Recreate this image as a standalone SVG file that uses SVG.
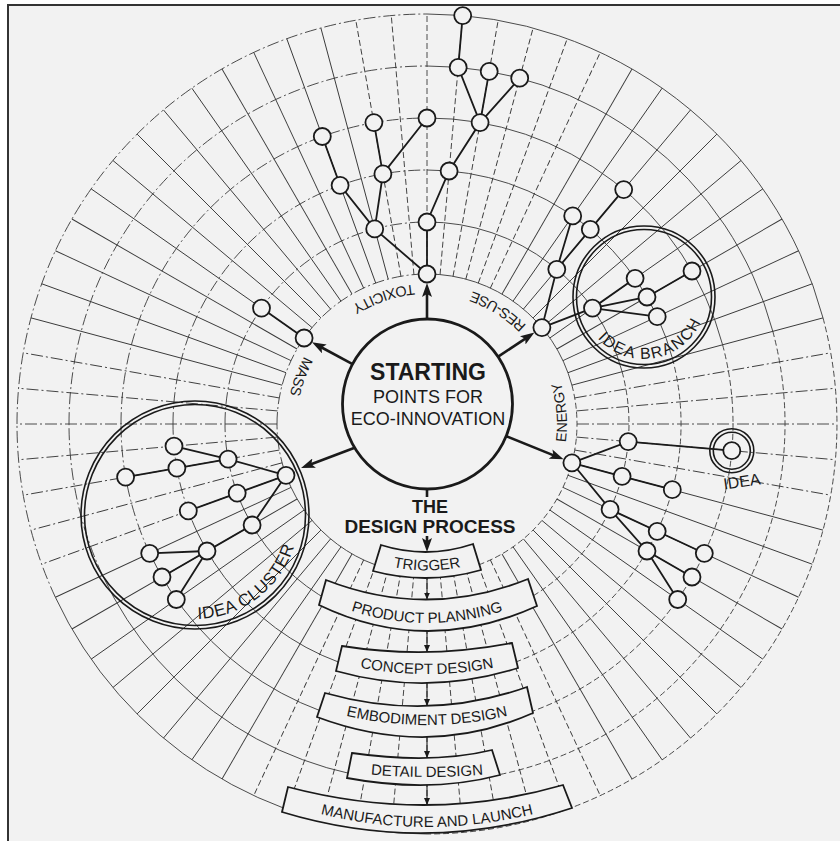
<svg xmlns="http://www.w3.org/2000/svg" width="840" height="841" viewBox="0 0 840 841">
<style>
.grid{fill:none;stroke:#383838;stroke-width:0.9}
.d{stroke-dasharray:6 3}
.dd{stroke-dasharray:12 3 2 3}
.edge{fill:none;stroke:#1a1a1a;stroke-width:1.8}
.node circle{fill:#f2f2f2;stroke:#1a1a1a;stroke-width:1.8}
.ring{fill:none;stroke:#1a1a1a;stroke-width:1.6}
.arr{fill:none;stroke:#1a1a1a;stroke-width:2.6}
.sarr{fill:none;stroke:#1a1a1a;stroke-width:1.1}
text{font-family:"Liberation Sans",Arial,Helvetica,sans-serif;fill:#1a1a1a}
.lab{font-size:14.5px}
.bt{font-size:15px}
.box path{fill:#f2f2f2;stroke:#1a1a1a;stroke-width:1.8}
</style>
<defs>
<marker id="ah" viewBox="0 0 14 10" refX="4" refY="5" markerWidth="14" markerHeight="10" markerUnits="userSpaceOnUse" orient="auto"><path d="M0,0 L14,5 L0,10 L3,5 Z" fill="#1a1a1a"/></marker>
<marker id="as" viewBox="0 0 7 6" refX="7" refY="3" markerWidth="7" markerHeight="6" markerUnits="userSpaceOnUse" orient="auto"><path d="M0,0 L7,3 L0,6 Z" fill="#1a1a1a"/></marker>
<path id="pTox" d="M488.4,298.2 A140,140 0 0 0 301.2,362.6"/>
<path id="pMass" d="M368.9,296.6 A140,140 0 0 0 299.6,482.1"/>
<path id="pRes" d="M563.4,392.5 A140,140 0 0 0 395.5,287.6"/>
<path id="pEn" d="M534.2,514 A140,140 0 0 0 517,316.8"/>
<path id="pClu" d="M138.4,602.2 A104,104 0 0 0 294.5,484.6"/>
<path id="pBr" d="M587.6,322.7 A62,62 0 0 0 705.7,302.9"/>
<path id="t1" d="M378,563 Q427,578 476,563"/>
<path id="t2" d="M316,597 Q427,649 538,597"/>
<path id="t3" d="M327,660 Q427,688 527,660"/>
<path id="t4" d="M317,708 Q427,742 537,708"/>
<path id="t5" d="M347,772 Q427,782 507,772"/>
<path id="t6" d="M277,801 Q427,853 577,801"/>
</defs>

<rect x="0" y="0" width="840" height="841" fill="#ffffff"/>
<rect x="8" y="5" width="832" height="836" fill="#f2f2f2"/>
<path d="M8,841 V5 H840" fill="none" stroke="#333" stroke-width="2"/>

<g id="grid">
<g class="grid dd">
<path d="M277,424 A150,150 0 0 1 427,274"/>
<path d="M225,424 A202,202 0 0 1 427,222"/>
<path d="M173,424 A254,254 0 0 1 427,170"/>
<path d="M121,424 A306,306 0 0 1 427,118"/>
<path d="M69,424 A358,358 0 0 1 427,66"/>
<path d="M17,424 A410,410 0 0 1 427,14"/>
<path d="M291.1,487.4 A150,150 0 0 1 277,424"/>
<path d="M243.9,509.4 A202,202 0 0 1 225,424"/>
<path d="M196.8,531.3 A254,254 0 0 1 173,424"/>
<path d="M149.7,553.3 A306,306 0 0 1 121,424"/>
<path d="M102.5,575.3 A358,358 0 0 1 69,424"/>
<path d="M55.4,597.3 A410,410 0 0 1 17,424"/>
</g>
<g class="grid">
<path d="M427,274 A150,150 0 0 1 571.9,385.2"/>
<path d="M427,222 A202,202 0 0 1 622.1,371.7"/>
<path d="M427,170 A254,254 0 0 1 672.4,358.3"/>
<path d="M427,118 A306,306 0 0 1 722.6,344.8"/>
<path d="M427,66 A358,358 0 0 1 772.8,331.3"/>
<path d="M427,14 A410,410 0 0 1 823,317.9"/>
<path d="M427,574 A150,150 0 0 1 291.1,487.4"/>
<path d="M427,626 A202,202 0 0 1 243.9,509.4"/>
<path d="M427,678 A254,254 0 0 1 196.8,531.3"/>
<path d="M427,730 A306,306 0 0 1 149.7,553.3"/>
<path d="M427,782 A358,358 0 0 1 102.5,575.3"/>
<path d="M427,834 A410,410 0 0 1 55.4,597.3"/>
</g>
<g class="grid d">
<path d="M571.9,385.2 A150,150 0 0 1 427,574"/>
<path d="M622.1,371.7 A202,202 0 0 1 427,626"/>
<path d="M672.4,358.3 A254,254 0 0 1 427,678"/>
<path d="M722.6,344.8 A306,306 0 0 1 427,730"/>
<path d="M772.8,331.3 A358,358 0 0 1 427,782"/>
<path d="M823,317.9 A410,410 0 0 1 427,834"/>
</g>
<g transform="translate(427,424)">
<g class="grid d">
<line y1="-150" y2="-410"/>
<line y1="-150" y2="-410" transform="rotate(5)"/>
<line y1="-150" y2="-410" transform="rotate(10)"/>
<line y1="-150" y2="-410" transform="rotate(15)"/>
<line y1="-150" y2="-410" transform="rotate(20)"/>
<line y1="-150" y2="-410" transform="rotate(25)"/>
<line y1="-150" y2="-410" transform="rotate(155)"/>
<line y1="-150" y2="-410" transform="rotate(160)"/>
<line y1="-150" y2="-410" transform="rotate(165)"/>
<line y1="-150" y2="-410" transform="rotate(170)"/>
<line y1="-150" y2="-410" transform="rotate(175)"/>
<line y1="-150" y2="-410" transform="rotate(180)"/>
<line y1="-150" y2="-410" transform="rotate(185)"/>
<line y1="-150" y2="-410" transform="rotate(190)"/>
<line y1="-150" y2="-410" transform="rotate(195)"/>
<line y1="-150" y2="-410" transform="rotate(200)"/>
<line y1="-150" y2="-410" transform="rotate(205)"/>
<line y1="-150" y2="-410" transform="rotate(350)"/>
<line y1="-150" y2="-410" transform="rotate(355)"/>
</g>
<g class="grid dd">
<line y1="-150" y2="-410" transform="rotate(80)"/>
<line y1="-150" y2="-410" transform="rotate(85)"/>
<line y1="-150" y2="-410" transform="rotate(90)"/>
<line y1="-150" y2="-410" transform="rotate(95)"/>
<line y1="-150" y2="-410" transform="rotate(100)"/>
<line y1="-150" y2="-410" transform="rotate(250)"/>
<line y1="-150" y2="-410" transform="rotate(255)"/>
<line y1="-150" y2="-410" transform="rotate(260)"/>
<line y1="-150" y2="-410" transform="rotate(265)"/>
<line y1="-150" y2="-410" transform="rotate(270)"/>
<line y1="-150" y2="-410" transform="rotate(275)"/>
<line y1="-150" y2="-410" transform="rotate(280)"/>
</g>
<g class="grid">
<line y1="-150" y2="-410" transform="rotate(30)"/>
<line y1="-150" y2="-410" transform="rotate(35)"/>
<line y1="-150" y2="-410" transform="rotate(40)"/>
<line y1="-150" y2="-410" transform="rotate(45)"/>
<line y1="-150" y2="-410" transform="rotate(50)"/>
<line y1="-150" y2="-410" transform="rotate(55)"/>
<line y1="-150" y2="-410" transform="rotate(60)"/>
<line y1="-150" y2="-410" transform="rotate(65)"/>
<line y1="-150" y2="-410" transform="rotate(70)"/>
<line y1="-150" y2="-410" transform="rotate(75)"/>
<line y1="-150" y2="-410" transform="rotate(105)"/>
<line y1="-150" y2="-410" transform="rotate(110)"/>
<line y1="-150" y2="-410" transform="rotate(115)"/>
<line y1="-150" y2="-410" transform="rotate(120)"/>
<line y1="-150" y2="-410" transform="rotate(125)"/>
<line y1="-150" y2="-410" transform="rotate(130)"/>
<line y1="-150" y2="-410" transform="rotate(135)"/>
<line y1="-150" y2="-410" transform="rotate(140)"/>
<line y1="-150" y2="-410" transform="rotate(145)"/>
<line y1="-150" y2="-410" transform="rotate(150)"/>
<line y1="-150" y2="-410" transform="rotate(210)"/>
<line y1="-150" y2="-410" transform="rotate(215)"/>
<line y1="-150" y2="-410" transform="rotate(220)"/>
<line y1="-150" y2="-410" transform="rotate(225)"/>
<line y1="-150" y2="-410" transform="rotate(230)"/>
<line y1="-150" y2="-410" transform="rotate(235)"/>
<line y1="-150" y2="-410" transform="rotate(240)"/>
<line y1="-150" y2="-410" transform="rotate(245)"/>
<line y1="-150" y2="-410" transform="rotate(285)"/>
<line y1="-150" y2="-410" transform="rotate(290)"/>
<line y1="-150" y2="-410" transform="rotate(295)"/>
<line y1="-150" y2="-410" transform="rotate(300)"/>
<line y1="-150" y2="-410" transform="rotate(305)"/>
<line y1="-150" y2="-410" transform="rotate(310)"/>
<line y1="-150" y2="-410" transform="rotate(315)"/>
<line y1="-150" y2="-410" transform="rotate(320)"/>
<line y1="-150" y2="-410" transform="rotate(325)"/>
<line y1="-150" y2="-410" transform="rotate(330)"/>
<line y1="-150" y2="-410" transform="rotate(335)"/>
<line y1="-150" y2="-410" transform="rotate(340)"/>
<line y1="-150" y2="-410" transform="rotate(345)"/>
</g>
</g>
</g>

<g id="rings">
<g id="idea-cluster">
<circle class="ring" cx="195" cy="515" r="114"/>
<circle class="ring" cx="195" cy="515" r="110.5"/>
<text font-size="17" letter-spacing="0.5"><textPath href="#pClu" startOffset="50%" text-anchor="middle">IDEA CLUSTER</textPath></text>
</g>
<g id="idea-branch">
<circle class="ring" cx="644" cy="297" r="71"/>
<circle class="ring" cx="644" cy="297" r="67.5"/>
<text font-size="16" letter-spacing="1.5"><textPath href="#pBr" startOffset="50%" text-anchor="middle">IDEA BRANCH</textPath></text>
</g>
<g id="idea-ring">
<circle class="ring" cx="731.8" cy="450.7" r="22"/>
<circle class="ring" cx="731.8" cy="450.7" r="18.5"/>
<text x="742" y="487" font-size="16" text-anchor="middle" transform="rotate(-8 742 482)">IDEA</text>
</g>
</g>

<g id="connectors">
<path class="edge" d="M427,274 L427,222 L449.1,171 L480.1,122.6 L458.2,67.4 L462.7,15.6 M480.1,122.6 L489.2,71.4 M480.1,122.6 L519.7,78.2 M427,274 L374.7,228.9 L340.1,185.3 L322.3,136.5 M374.7,228.9 L382.9,173.9 L373.9,122.6 M382.9,173.9 L427,118"/>
<path class="edge" d="M304.1,338 L261.5,308.1"/>
<path class="edge" d="M541.9,327.6 L556.8,269.3 L572.7,215.9 M556.8,269.3 L590.3,229.4 L623.7,189.6 M541.9,327.6 L592.5,308.1 L635.1,278.3 M592.5,308.1 L647,297 L692,271 M592.5,308.1 L657.2,316.7"/>
<path class="edge" d="M571.9,462.8 L628.2,441.6 L731.8,450.7 M571.9,462.8 L622.1,476.3 L672.3,489.7 M571.9,462.8 L610.1,509.4 L657.2,531.3 L704.3,553.3 M610.1,509.4 L647,551 L692,577 M647,551 L677.7,599.5"/>
<path class="edge" d="M286,475.3 L228.1,459.1 L174,446.1 M228.1,459.1 L176.9,468.1 L125.6,477.1 M286,475.3 L237.2,493.1 L188.3,510.9 M286,475.3 L252.1,525 L207,551 L149.7,553.3 M207,551 L162,577 M207,551 L176.3,599.5"/>
<line class="arr" x1="352.1" y1="363.8" x2="320.8" y2="347" marker-end="url(#ah)"/>
<line class="arr" x1="427" y1="319" x2="427" y2="293" marker-end="url(#ah)"/>
<line class="arr" x1="497.8" y1="356.9" x2="526.1" y2="338.1" marker-end="url(#ah)"/>
<line class="arr" x1="505.8" y1="436" x2="554.3" y2="455.6" marker-end="url(#ah)"/>
<line class="arr" x1="354" y1="448" x2="310.4" y2="464.5" marker-end="url(#ah)"/>
<line class="arr" x1="427" y1="489" x2="427" y2="497"/>
<line class="arr" x1="427" y1="536" x2="427" y2="542" marker-end="url(#ah)"/>
<line class="sarr" x1="427" y1="578" x2="427" y2="599.5" marker-end="url(#as)"/>
<line class="sarr" x1="427" y1="631" x2="427" y2="652" marker-end="url(#as)"/>
<line class="sarr" x1="427" y1="683" x2="427" y2="706" marker-end="url(#as)"/>
<line class="sarr" x1="427" y1="737" x2="427" y2="758" marker-end="url(#as)"/>
<line class="sarr" x1="427" y1="785" x2="427" y2="805" marker-end="url(#as)"/>
</g>

<g id="nodes">
<g id="n-T0" class="node"><circle cx="427" cy="274" r="8.5"/></g>
<g id="n-T1" class="node"><circle cx="427" cy="222" r="8.5"/></g>
<g id="n-T2" class="node"><circle cx="449.1" cy="171" r="8.5"/></g>
<g id="n-T3" class="node"><circle cx="480.1" cy="122.6" r="8.5"/></g>
<g id="n-T4" class="node"><circle cx="458.2" cy="67.4" r="8.5"/></g>
<g id="n-T5" class="node"><circle cx="489.2" cy="71.4" r="8.5"/></g>
<g id="n-T6" class="node"><circle cx="519.7" cy="78.2" r="8.5"/></g>
<g id="n-T7" class="node"><circle cx="462.7" cy="15.6" r="8.5"/></g>
<g id="n-L1" class="node"><circle cx="374.7" cy="228.9" r="8.5"/></g>
<g id="n-L2" class="node"><circle cx="340.1" cy="185.3" r="8.5"/></g>
<g id="n-L3" class="node"><circle cx="322.3" cy="136.5" r="8.5"/></g>
<g id="n-L4" class="node"><circle cx="382.9" cy="173.9" r="8.5"/></g>
<g id="n-L5" class="node"><circle cx="373.9" cy="122.6" r="8.5"/></g>
<g id="n-L6" class="node"><circle cx="427" cy="118" r="8.5"/></g>
<g id="n-M0" class="node"><circle cx="304.1" cy="338" r="8.5"/></g>
<g id="n-M1" class="node"><circle cx="261.5" cy="308.1" r="8.5"/></g>
<g id="n-R0" class="node"><circle cx="541.9" cy="327.6" r="8.5"/></g>
<g id="n-R1" class="node"><circle cx="556.8" cy="269.3" r="8.5"/></g>
<g id="n-R2" class="node"><circle cx="572.7" cy="215.9" r="8.5"/></g>
<g id="n-R3" class="node"><circle cx="590.3" cy="229.4" r="8.5"/></g>
<g id="n-R4" class="node"><circle cx="623.7" cy="189.6" r="8.5"/></g>
<g id="n-B0" class="node"><circle cx="592.5" cy="308.1" r="8.5"/></g>
<g id="n-B1" class="node"><circle cx="635.1" cy="278.3" r="8.5"/></g>
<g id="n-B2" class="node"><circle cx="647" cy="297" r="8.5"/></g>
<g id="n-B3" class="node"><circle cx="692" cy="271" r="8.5"/></g>
<g id="n-B4" class="node"><circle cx="657.2" cy="316.7" r="8.5"/></g>
<g id="n-E0" class="node"><circle cx="571.9" cy="462.8" r="8.5"/></g>
<g id="n-E1" class="node"><circle cx="628.2" cy="441.6" r="8.5"/></g>
<g id="n-IDEA" class="node"><circle cx="731.8" cy="450.7" r="8.5"/></g>
<g id="n-E2" class="node"><circle cx="622.1" cy="476.3" r="8.5"/></g>
<g id="n-E3" class="node"><circle cx="672.3" cy="489.7" r="8.5"/></g>
<g id="n-E4" class="node"><circle cx="610.1" cy="509.4" r="8.5"/></g>
<g id="n-E5" class="node"><circle cx="657.2" cy="531.3" r="8.5"/></g>
<g id="n-E6" class="node"><circle cx="704.3" cy="553.3" r="8.5"/></g>
<g id="n-E7" class="node"><circle cx="647" cy="551" r="8.5"/></g>
<g id="n-E8" class="node"><circle cx="692" cy="577" r="8.5"/></g>
<g id="n-E9" class="node"><circle cx="677.7" cy="599.5" r="8.5"/></g>
<g id="n-C1" class="node"><circle cx="174" cy="446.1" r="8.5"/></g>
<g id="n-C2" class="node"><circle cx="228.1" cy="459.1" r="8.5"/></g>
<g id="n-C3" class="node"><circle cx="176.9" cy="468.1" r="8.5"/></g>
<g id="n-C4" class="node"><circle cx="125.6" cy="477.1" r="8.5"/></g>
<g id="n-C5" class="node"><circle cx="286" cy="475.3" r="8.5"/></g>
<g id="n-C6" class="node"><circle cx="237.2" cy="493.1" r="8.5"/></g>
<g id="n-C7" class="node"><circle cx="188.3" cy="510.9" r="8.5"/></g>
<g id="n-C8" class="node"><circle cx="252.1" cy="525" r="8.5"/></g>
<g id="n-C9" class="node"><circle cx="207" cy="551" r="8.5"/></g>
<g id="n-C10" class="node"><circle cx="149.7" cy="553.3" r="8.5"/></g>
<g id="n-C11" class="node"><circle cx="162" cy="577" r="8.5"/></g>
<g id="n-C12" class="node"><circle cx="176.3" cy="599.5" r="8.5"/></g>
</g>

<g id="labels">
<text class="lab"><textPath href="#pTox" startOffset="50%" text-anchor="middle">TOXICITY</textPath></text>
<text class="lab"><textPath href="#pMass" startOffset="50%" text-anchor="middle">MASS</textPath></text>
<text class="lab"><textPath href="#pRes" startOffset="50%" text-anchor="middle">RES-USE</textPath></text>
<text class="lab"><textPath href="#pEn" startOffset="50%" text-anchor="middle">ENERGY</textPath></text>
</g>

<g id="start">
<circle cx="427.5" cy="404" r="85" fill="#f2f2f2" stroke="#1a1a1a" stroke-width="2.8"/>
<text x="428" y="380" font-size="23" font-weight="bold" text-anchor="middle">STARTING</text>
<text x="428" y="403" font-size="18" text-anchor="middle">POINTS FOR</text>
<text x="428" y="425" font-size="18" text-anchor="middle">ECO-INNOVATION</text>
</g>

<g id="design-title">
<text x="430" y="513" font-size="18" font-weight="bold" text-anchor="middle">THE</text>
<text x="430" y="533" font-size="19" font-weight="bold" text-anchor="middle">DESIGN PROCESS</text>
</g>

<g id="box-trigger" class="box">
<path d="M381,545 Q427,559.5 473,544 L481,570 Q427,585.5 373,571 Z"/>
<text class="bt"><textPath href="#t1" startOffset="50%" text-anchor="middle">TRIGGER</textPath></text>
</g>
<g id="box-product" class="box">
<path d="M326,580 Q427,619.5 528,579 L537,606 Q426,656.5 319,605 Z"/>
<text class="bt"><textPath href="#t2" startOffset="50%" text-anchor="middle">PRODUCT PLANNING</textPath></text>
</g>
<g id="box-concept" class="box">
<path d="M342,646 Q427,659.5 512,643 L518,668 Q427,696.5 336,671 Z"/>
<text class="bt"><textPath href="#t3" startOffset="50%" text-anchor="middle">CONCEPT DESIGN</textPath></text>
</g>
<g id="box-embodiment" class="box">
<path d="M325,693 Q428,722 527,687 L533,713 Q429,759 317,717 Z"/>
<text class="bt"><textPath href="#t4" startOffset="50%" text-anchor="middle">EMBODIMENT DESIGN</textPath></text>
</g>
<g id="box-detail" class="box">
<path d="M352,753 Q432,764.5 492,750 L500,775 Q430.5,793.5 347,778 Z"/>
<text class="bt"><textPath href="#t5" startOffset="50%" text-anchor="middle">DETAIL DESIGN</textPath></text>
</g>
<g id="box-manufacture" class="box">
<path d="M288,787 Q428.5,824 563,785 L572,808 Q427,856 282,812 Z"/>
<text class="bt"><textPath href="#t6" startOffset="50%" text-anchor="middle">MANUFACTURE AND LAUNCH</textPath></text>
</g>
</svg>
